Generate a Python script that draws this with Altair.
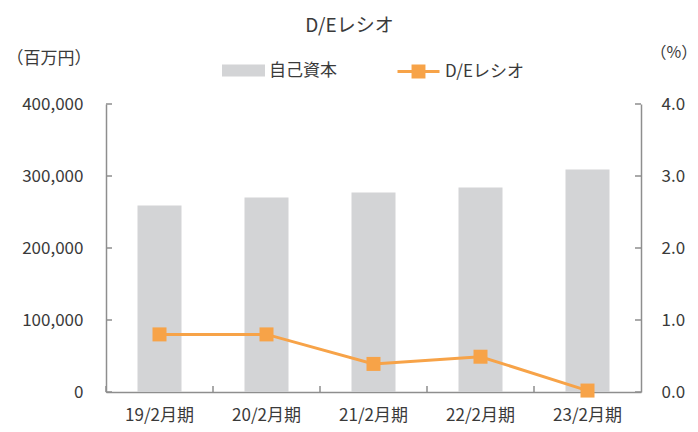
import altair as alt
import pandas as pd

categories = ["19/2月期", "20/2月期", "21/2月期", "22/2月期", "23/2月期"]
equity = [259000, 270000, 277000, 284000, 309000]
de_ratio = [0.8, 0.8, 0.39, 0.49, 0.02]
left_ticks = [0, 100000, 200000, 300000, 400000]
right_ticks = [0.0, 1.0, 2.0, 3.0, 4.0]

FONT = "Noto Sans CJK JP"
GRAY_BAR = "#d3d4d6"
ORANGE = "#f7a348"
AXIS_GRAY = "#8e8e8e"
TEXT = "#3a3a3a"

df = pd.DataFrame({"cat": categories, "equity": equity, "de": de_ratio,
                   "s1": ["自己資本"] * 5, "s2": ["D/Eレシオ"] * 5})
lt = pd.DataFrame({"v": left_ticks})
rt = pd.DataFrame({"v": right_ticks})

xscale = alt.Scale(domain=categories, paddingInner=0, paddingOuter=0)
xenc = alt.X("cat:N", scale=xscale, sort=categories,
             axis=alt.Axis(title=None, labelAngle=0, ticks=False, tickSize=0,
                           labelPadding=15, domainColor=AXIS_GRAY, domainWidth=1.5))

lscale = alt.Scale(domain=[0, 400000], nice=False, zero=True)
rscale = alt.Scale(domain=[0, 4], nice=False, zero=True)

bars = alt.Chart(df).mark_bar(size=44).encode(
    x=xenc,
    y=alt.Y("equity:Q", scale=lscale,
            axis=alt.Axis(title="（百万円）", values=left_ticks, ticks=False, tickSize=0,
                          labelExpr="format(datum.value, ',d')",
                          labelPadding=23, grid=False, domainColor=AXIS_GRAY, domainWidth=1.5,
                          titleAngle=0, titleAlign="left", titleBaseline="middle",
                          titleX=-100, titleY=-46, titleFontWeight="normal", titleFontSize=17)),
    fill=alt.Fill("s1:N", scale=alt.Scale(domain=["自己資本"], range=[GRAY_BAR]),
                  legend=alt.Legend(title=None, orient="none", legendX=116, legendY=-55,
                                    symbolType="M-1,-0.28H1V0.28H-1Z", symbolSize=1849,
                                    symbolStrokeWidth=0, labelOffset=4, padding=0)),
)

lt_rules = alt.Chart(lt).mark_rule(color=AXIS_GRAY, strokeWidth=1.5).encode(
    y=alt.Y("v:Q", scale=lscale), x=alt.value(0), x2=alt.value(6))

xt_rules = alt.Chart(df).mark_rule(color=AXIS_GRAY, strokeWidth=1.5).encode(
    x=alt.X("cat:N", scale=xscale, sort=categories, bandPosition=0),
    y=alt.value(282), y2=alt.value(288))

left = alt.layer(bars, lt_rules, xt_rules)

line = alt.Chart(df).mark_line(strokeWidth=3).encode(
    x=alt.X("cat:N", scale=xscale, sort=categories),
    y=alt.Y("de:Q", scale=rscale,
            axis=alt.Axis(title="（%）", orient="right", values=right_ticks,
                          labelExpr="format(datum.value, '.1f')",
                          ticks=False, tickSize=0, labelPadding=20, grid=False,
                          domainColor=AXIS_GRAY, domainWidth=1.5,
                          titleAngle=0, titleAlign="left", titleBaseline="middle",
                          titleX=9, titleY=-52, titleFontWeight="normal", titleFontSize=16)),
    stroke=alt.Stroke("s2:N", scale=alt.Scale(domain=["D/Eレシオ"], range=[ORANGE]),
                      legend=alt.Legend(title=None, orient="none", legendX=290, legendY=-55,
                                        symbolType="M-1,0H1M-0.26,-0.26H0.26V0.26H-0.26Z",
                                        symbolSize=1764, symbolStrokeWidth=3,
                                        symbolFillColor=ORANGE, labelOffset=4, padding=0)),
)

points = alt.Chart(df).mark_point(shape="square", filled=True, size=196, opacity=1, color=ORANGE).encode(
    x=alt.X("cat:N", scale=xscale, sort=categories),
    y=alt.Y("de:Q", scale=rscale),
)

rt_rules = alt.Chart(rt).mark_rule(color=AXIS_GRAY, strokeWidth=1.5).encode(
    y=alt.Y("v:Q", scale=rscale), x=alt.value(529), x2=alt.value(535))

right = alt.layer(line, points, rt_rules)

chart = alt.layer(left, right).resolve_scale(y="independent").properties(
    width=535, height=288,
    title=alt.Title("D/Eレシオ", fontSize=19, fontWeight="normal", font=FONT, color=TEXT,
                    anchor="middle", dx=-24, offset=8),
    autosize=alt.AutoSizeParams(type="none"),
    padding={"left": 106, "top": 104, "right": 57, "bottom": 40},
    background="white",
).configure_view(stroke=None).configure_axis(
    labelFont=FONT, labelFontSize=17, labelColor=TEXT, titleFont=FONT, titleColor=TEXT,
).configure_legend(
    labelFont=FONT, labelFontSize=17, labelColor=TEXT,
)

chart.save("out.html", embed_options={"renderer": "svg", "actions": False})
